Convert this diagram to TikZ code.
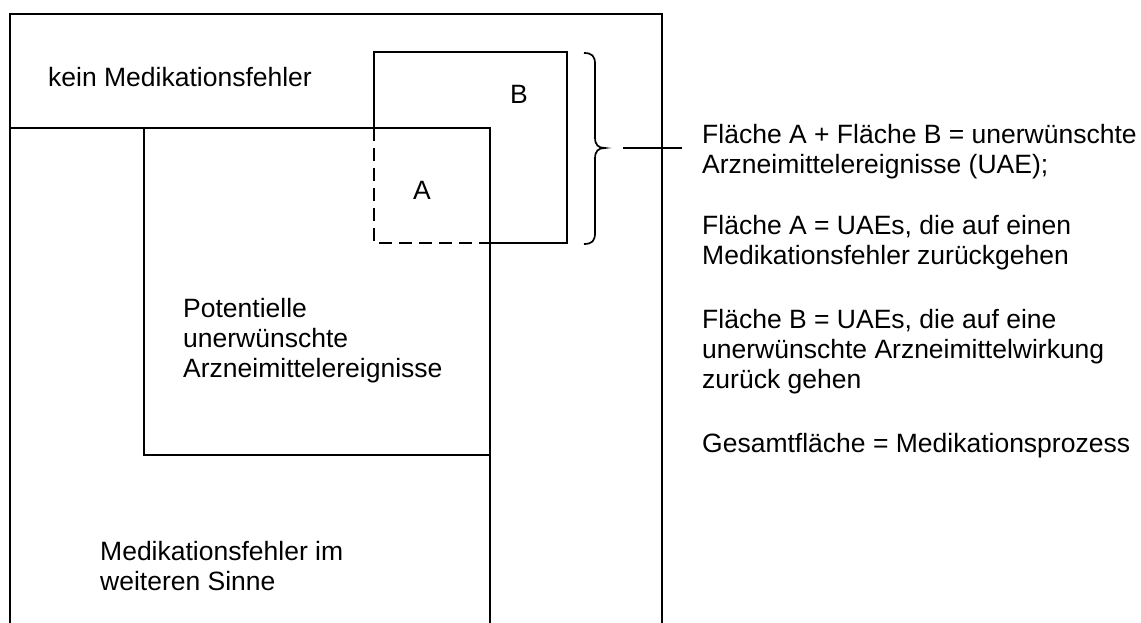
\documentclass[tikz,border=0pt]{standalone}
\usepackage{fontspec}
\setmainfont{Liberation Sans}
\begin{document}
\begin{tikzpicture}[x=1pt,y=-1pt,
  frame/.style={line width=1.7pt,line cap=rect},
  dashframe/.style={line width=1.7pt,dash pattern=on 13pt off 7pt},
  lbl/.style={anchor=base west,inner sep=0pt,align=left,font=\fontsize{26.5}{29.8}\selectfont}]
\useasboundingbox (0,0) rectangle (1141,623);
% outer box (Medikationsprozess), open at the bottom
\draw[frame] (10,630) -- (10,14) -- (662,14) -- (662,630);
% boundary of "kein Medikationsfehler"
\draw[frame] (10,128) -- (490,128) -- (490,630);
% potentielle UAE box
\draw[frame] (144,128) -- (144,455) -- (490,455);
% box B (UAE)
\draw[frame] (374,128) -- (374,52) -- (567,52) -- (567,243) -- (490,243);
\draw[dashframe] (374,128) -- (374,243) -- (490,243);
% brace
\draw[line width=1.7pt] (584,53) .. controls (592,53) and (595,56) .. (595,64)
  -- (595,137) .. controls (595,145) and (598,148) .. (605,148)
  .. controls (598,148) and (595,151) .. (595,159)
  -- (595,233) .. controls (595,241) and (592,244) .. (584,244);
\coordinate (tip) at (623,148);
\coordinate (lend) at (682,148);
\draw[line width=1.7pt] (tip) -- (lend);
% labels (base anchor = baseline of the last line)
\node[lbl] (kein) at (48,87) {kein Medikationsfehler};
\node[lbl] (B) at (510,104) {B};
\node[lbl] (A) at (413,200) {A};
\node[lbl] (pot) at (183,377) {Potentielle\\unerwünschte\\Arzneimittelereignisse};
\node[lbl] (mf) at (100,590) {Medikationsfehler im\\weiteren Sinne};
\node[lbl] (t1) at (702,173.5) {Fläche A + Fläche B = unerwünschte\\Arzneimittelereignisse (UAE);};
\node[lbl] (t2) at (702,264.5) {Fläche A = UAEs, die auf einen\\Medikationsfehler zurückgehen};
\node[lbl] (t3) at (702,388) {Fläche B = UAEs, die auf eine\\unerwünschte Arzneimittelwirkung\\zurück gehen};
\node[lbl] (t4) at (702,452) {Gesamtfläche = Medikationsprozess};
\end{tikzpicture}
\end{document}
